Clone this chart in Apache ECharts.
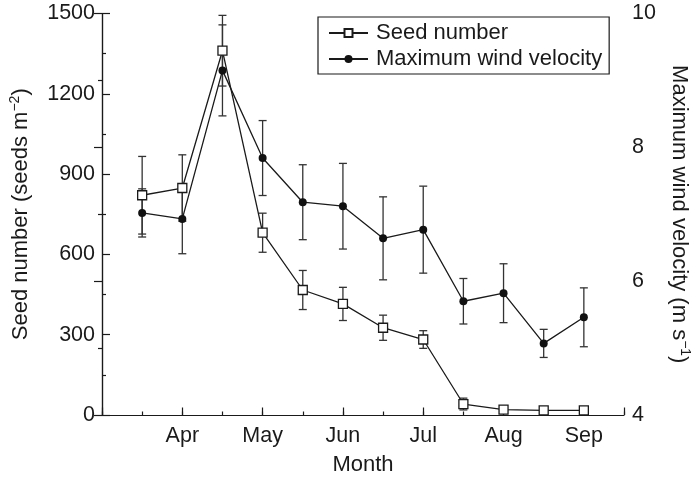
<!DOCTYPE html>
<html>
<head>
<meta charset="utf-8">
<script src="https://cdn.jsdelivr.net/npm/echarts@6/dist/echarts.min.js"></script>
<style>html,body{margin:0;padding:0;background:#fff}#c{width:700px;height:481px}</style>
</head>
<body>
<div id="c"></div>
<script>
// Time position in months (1 = Apr, 2 = May, ... ; .5 = mid-month)
var monthPos = [0.5, 1, 1.5, 2, 2.5, 3, 3.5, 4, 4.5, 5, 5.5, 6];
var monthLabels = ['Apr', 'May', 'Jun', 'Jul', 'Aug', 'Sep'];
var seedNumber = [821, 848, 1361, 681, 467, 415, 326, 282, 41, 20, 17, 17];
var seedErr    = [145, 124, 132, 73, 73, 62, 47, 33, 22, 5, 4, 4];
var windVel    = [7.02, 6.93, 9.15, 7.84, 7.18, 7.12, 6.64, 6.77, 5.70, 5.82, 5.07, 5.46];
var windErr    = [0.36, 0.52, 0.68, 0.56, 0.56, 0.64, 0.62, 0.65, 0.34, 0.44, 0.21, 0.44];
var seedTicks = [0, 300, 600, 900, 1200, 1500];
var windTicks = [4, 6, 8, 10];

var FONT = 'Liberation Sans, Arial, Helvetica, sans-serif';
var INK = '#1a1a1a';
var FS = 21.5;
var TFS = 22;

function pairs(ys) { return monthPos.map(function (x, i) { return [x, ys[i]]; }); }
function errData(ys, es) { return monthPos.map(function (x, i) { return [x, ys[i], es[i]]; }); }

function errRender(params, api) {
  var x = api.value(0), y = api.value(1), e = api.value(2);
  var top = api.coord([x, y + e]);
  var bot = api.coord([x, y - e]);
  var w = 4;
  var st = { stroke: '#333', lineWidth: 1.3 };
  return {
    type: 'group',
    children: [
      { type: 'line', shape: { x1: top[0], y1: top[1], x2: bot[0], y2: bot[1] }, style: st },
      { type: 'line', shape: { x1: top[0] - w, y1: top[1], x2: top[0] + w, y2: top[1] }, style: st },
      { type: 'line', shape: { x1: bot[0] - w, y1: bot[1], x2: bot[0] + w, y2: bot[1] }, style: st }
    ]
  };
}

var chart = echarts.init(document.getElementById('c'));
var axisLineStyle = { color: INK, width: 1.2 };
function plain(v) { return String(v); }
function richTitle() {
  return {
    rich: {
      a: { fontSize: TFS, fontFamily: FONT, color: INK, lineHeight: 26 },
      b: { fontSize: 14, fontFamily: FONT, color: INK, lineHeight: 15, verticalAlign: 'top' }
    }
  };
}

chart.setOption({
  animation: false,
  backgroundColor: '#fff',
  textStyle: { fontFamily: FONT, color: INK },
  grid: { left: 100, right: 69, top: 13.5, bottom: 62, containLabel: false },
  legend: {
    left: 318, top: 17,
    orient: 'vertical',
    borderColor: INK, borderWidth: 1.2,
    padding: [5, 7, 4, 10],
    itemGap: 4,
    itemWidth: 39, itemHeight: 10,
    textStyle: { color: INK, fontSize: 22, fontFamily: FONT, lineHeight: 21, padding: [0, 0, 0, 3] },
    data: ['Seed number', 'Maximum wind velocity']
  },
  xAxis: [{
    type: 'value', min: 0, max: 6.5, interval: 0.5,
    name: 'Month', nameLocation: 'middle', nameGap: 39,
    nameTextStyle: { color: INK, fontSize: TFS, fontFamily: FONT },
    axisLine: { show: true, lineStyle: axisLineStyle },
    axisTick: { show: true, inside: true, length: 3.5, lineStyle: axisLineStyle },
    axisLabel: {
      margin: 10, color: INK, fontSize: FS, fontFamily: FONT,
      formatter: function (v) {
        if (Math.abs(v - Math.round(v)) > 1e-6) return '';
        var i = Math.round(v) - 1;
        return monthLabels[i] || '';
      }
    },
    splitLine: { show: false }
  }, {
    type: 'value', min: 0, max: 6.5, interval: 1, position: 'bottom',
    axisLine: { show: false },
    axisTick: { show: true, inside: true, length: 7.5, lineStyle: axisLineStyle },
    axisLabel: { show: false },
    splitLine: { show: false }
  }],
  yAxis: [{
    type: 'value', min: seedTicks[0], max: seedTicks[seedTicks.length - 1], interval: 300,
    position: 'left',
    name: '{a|Seed number (seeds m}{b|−2}{a|)}',
    nameLocation: 'middle', nameGap: 68, nameRotate: 90,
    nameTextStyle: richTitle(),
    axisLine: { show: true, lineStyle: axisLineStyle },
    axisTick: { show: true, inside: true, length: 8, lineStyle: axisLineStyle },
    minorTick: { show: true, splitNumber: 2, length: 4, lineStyle: axisLineStyle },
    axisLabel: { margin: 7, color: INK, fontSize: FS, fontFamily: FONT, formatter: plain },
    splitLine: { show: false }
  }, {
    type: 'value', min: windTicks[0], max: windTicks[windTicks.length - 1], interval: 2,
    position: 'right',
    name: '{a|Maximum wind velocity (m s}{b|−1}{a|)}',
    nameLocation: 'middle', nameGap: 42, nameRotate: -90,
    nameTextStyle: richTitle(),
    axisLine: { show: true, lineStyle: axisLineStyle },
    axisTick: { show: true, inside: true, length: 8, lineStyle: axisLineStyle },
    minorTick: { show: true, splitNumber: 2, length: 4, lineStyle: axisLineStyle },
    axisLabel: { margin: 8, color: INK, fontSize: FS, fontFamily: FONT, formatter: plain },
    splitLine: { show: false }
  }],
  series: [{
    type: 'custom', name: 'seedErr', xAxisIndex: 0, yAxisIndex: 0, z: 1,
    renderItem: errRender, data: errData(seedNumber, seedErr), silent: true
  }, {
    type: 'custom', name: 'windErr', xAxisIndex: 0, yAxisIndex: 1, z: 1,
    renderItem: errRender, data: errData(windVel, windErr), silent: true
  }, {
    type: 'line', name: 'Maximum wind velocity', xAxisIndex: 0, yAxisIndex: 1, z: 3,
    data: pairs(windVel),
    symbol: 'circle', symbolSize: 8,
    lineStyle: { color: INK, width: 1.3 },
    itemStyle: { color: '#111', borderColor: '#111', borderWidth: 0 }
  }, {
    type: 'line', name: 'Seed number', xAxisIndex: 0, yAxisIndex: 0, z: 4,
    data: pairs(seedNumber),
    symbol: 'rect', symbolSize: 9,
    lineStyle: { color: INK, width: 1.3 },
    itemStyle: { color: '#fff', borderColor: INK, borderWidth: 1.3 }
  }]
});
</script>
</body>
</html>
